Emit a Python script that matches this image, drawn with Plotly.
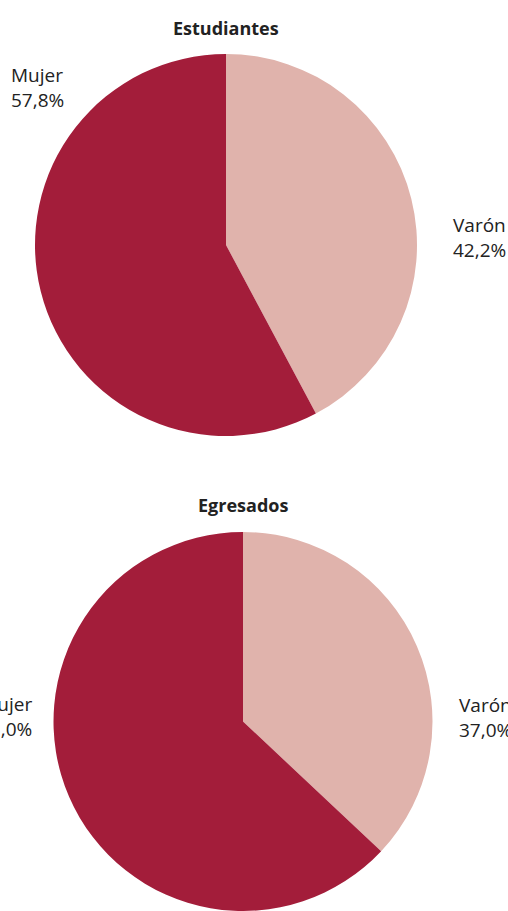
import plotly.graph_objects as go

# Data
labels = ["Varón", "Mujer"]
estudiantes = [42.2, 57.8]
egresados = [37.0, 63.0]
colors = ["#E0B3AC", "#A31D3A"]

W, H = 508, 911


def px_x(x):
    return x / W


def px_y(y):
    return 1 - y / H


fig = go.Figure()

fig.add_trace(go.Pie(
    labels=labels, values=estudiantes, sort=False, direction="clockwise",
    marker=dict(colors=colors, line=dict(width=0)), textinfo="none",
    hoverinfo="label+percent", showlegend=False,
    domain=dict(x=[px_x(35), px_x(417)], y=[px_y(436), px_y(54)]),
))
fig.add_trace(go.Pie(
    labels=labels, values=egresados, sort=False, direction="clockwise",
    marker=dict(colors=colors, line=dict(width=0)), textinfo="none",
    hoverinfo="label+percent", showlegend=False,
    domain=dict(x=[px_x(52), px_x(434)], y=[0, px_y(532)]),
))

lab_font = dict(family="Open Sans, Noto Sans, sans-serif", size=19, color="#222222")
title_font = dict(family="Open Sans, Noto Sans, sans-serif", size=18, color="#222222")


def lab(name, v):
    return name + "<br>" + f"{v:.1f}".replace(".", ",") + "%"


annotations = [
    dict(text="<b>Estudiantes</b>", x=px_x(226), y=px_y(28), font=title_font,
         xanchor="center", yanchor="middle"),
    dict(text="<b>Egresados</b>", x=px_x(243), y=px_y(505), font=title_font,
         xanchor="center", yanchor="middle"),
    # Estudiantes labels
    dict(text=lab("Mujer", estudiantes[1]), x=px_x(9), y=px_y(87), align="left",
         font=lab_font, xanchor="left", yanchor="middle"),
    dict(text=lab("Varón", estudiantes[0]), x=px_x(451), y=px_y(237), align="left",
         font=lab_font, xanchor="left", yanchor="middle"),
    # Egresados labels
    dict(text=lab("Mujer", egresados[1]), x=px_x(34), y=px_y(716), align="right",
         font=lab_font, xanchor="right", yanchor="middle"),
    dict(text=lab("Varón", egresados[0]), x=px_x(457), y=px_y(717), align="left",
         font=lab_font, xanchor="left", yanchor="middle"),
]
for a in annotations:
    a.update(xref="paper", yref="paper", showarrow=False)

fig.update_layout(
    width=W, height=H,
    margin=dict(l=0, r=0, t=0, b=0),
    paper_bgcolor="white", plot_bgcolor="white",
    annotations=annotations,
)

# no default page margin, so the figure sits flush in the window
fig.write_html("out.html", config={"displayModeBar": False},
               post_script="document.body.style.margin='0';")
